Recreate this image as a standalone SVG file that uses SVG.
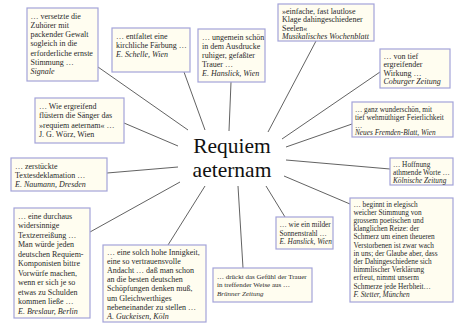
<svg xmlns="http://www.w3.org/2000/svg" width="454" height="328" viewBox="0 0 454 328">
<style>
.box{fill:#fffdf0;stroke:#a3a3d9;stroke-width:1.2}
.t{font-family:"Liberation Serif","DejaVu Serif",serif;font-size:8px;fill:#2a2a2a}
.s{font-size:7.3px}
.i{font-style:italic}
.c{font-family:"Liberation Serif","DejaVu Serif",serif;font-size:21.5px;fill:#111;text-anchor:middle}
.ln{stroke:#3a3a3a;stroke-width:0.8;fill:none}
</style>
<rect width="454" height="328" fill="#ffffff"/>
<g id="connectors">
<line class="ln" x1="98" y1="67" x2="188" y2="130"/>
<line class="ln" x1="184" y1="72" x2="205" y2="130"/>
<line class="ln" x1="231" y1="82" x2="229" y2="131"/>
<line class="ln" x1="316" y1="41" x2="268" y2="132"/>
<line class="ln" x1="380" y1="72" x2="282" y2="139"/>
<line class="ln" x1="352" y1="124" x2="286" y2="147"/>
<line class="ln" x1="390" y1="169" x2="286" y2="160"/>
<line class="ln" x1="350" y1="204" x2="284" y2="176"/>
<line class="ln" x1="124" y1="123" x2="178" y2="146"/>
<line class="ln" x1="107" y1="173" x2="178" y2="167"/>
<line class="ln" x1="90" y1="232" x2="180" y2="182"/>
<line class="ln" x1="168" y1="245" x2="205" y2="186"/>
<line class="ln" x1="285" y1="217" x2="266" y2="186"/>
<line class="ln" x1="243" y1="268" x2="238" y2="186"/>
</g>
<g id="center">
<text class="c" x="232" y="153">Requiem</text>
<text class="c" x="232" y="177">aeternam</text>
</g>
<g id="n1">
<rect class="box" x="27" y="8" width="71" height="73"/>
<text class="t" x="30.5" y="18.5">… versetzte die</text>
<text class="t" x="30.5" y="27.8">Zuhörer mit</text>
<text class="t" x="30.5" y="37.1">packender Gewalt</text>
<text class="t" x="30.5" y="46.4">sogleich in die</text>
<text class="t" x="30.5" y="55.7">erforderliche ernste</text>
<text class="t" x="30.5" y="65">Stimmung …</text>
<text class="t i" x="30.5" y="74.3">Signale</text>
</g>
<g id="n2">
<rect class="box" x="112" y="28" width="78" height="44"/>
<text class="t" x="116" y="38.5">… entfaltet eine</text>
<text class="t" x="116" y="47.5">kirchliche Färbung …</text>
<text class="t i" x="116" y="56.5">E. Schelle, Wien</text>
</g>
<g id="n3">
<rect class="box" x="198" y="29" width="67" height="53"/>
<text class="t" x="202" y="39.5">… ungemein schön</text>
<text class="t" x="202" y="48.5">in dem Ausdrucke</text>
<text class="t" x="202" y="57.5">ruhiger, gefaßter</text>
<text class="t" x="202" y="66.5">Trauer …</text>
<text class="t i" x="202" y="75.5">E. Hanslick, Wien</text>
</g>
<g id="n4">
<rect class="box" x="278" y="4" width="96" height="37"/>
<text class="t" x="282" y="13.5">»einfache, fast lautlose</text>
<text class="t" x="282" y="22">Klage dahingeschiedener</text>
<text class="t" x="282" y="30.5">Seelen«</text>
<text class="t i" x="282" y="39">Musikalisches Wochenblatt</text>
</g>
<g id="n5">
<rect class="box" x="380" y="49" width="70" height="39"/>
<text class="t" x="383.5" y="58.5">… von tief</text>
<text class="t" x="383.5" y="67">ergreifender</text>
<text class="t" x="383.5" y="75.5">Wirkung …</text>
<text class="t i" x="383.5" y="84">Coburger Zeitung</text>
</g>
<g id="n6">
<rect class="box" x="352" y="102" width="101" height="35"/>
<text class="t s" x="355" y="111.5">… ganz wunderschön, mit</text>
<text class="t s" x="355" y="119.5">tief wehmüthiger Feierlichkeit</text>
<text class="t s" x="355" y="127.5">…</text>
<text class="t s i" x="355" y="135">Neues Fremden-Blatt, Wien</text>
</g>
<g id="n7">
<rect class="box" x="390" y="158" width="63" height="27"/>
<text class="t s" x="393" y="167">… Hoffnung</text>
<text class="t s" x="393" y="175">athmende Worte …</text>
<text class="t s i" x="393" y="183">Kölnische Zeitung</text>
</g>
<g id="n8">
<rect class="box" x="350" y="198" width="103" height="104"/>
<text class="t s" x="353.5" y="206.5">… beginnt in elegisch</text>
<text class="t s" x="353.5" y="214.7">weicher Stimmung von</text>
<text class="t s" x="353.5" y="222.9">grossem poetischen und</text>
<text class="t s" x="353.5" y="231.1">klanglichen Reize: der</text>
<text class="t s" x="353.5" y="239.3">Schmerz um einen theueren</text>
<text class="t s" x="353.5" y="247.5">Verstorbenen ist zwar wach</text>
<text class="t s" x="353.5" y="255.7">in uns; der Glaube aber, dass</text>
<text class="t s" x="353.5" y="263.9">der Dahingeschiedene sich</text>
<text class="t s" x="353.5" y="272.1">himmlischer Verklärung</text>
<text class="t s" x="353.5" y="280.3">erfreut, nimmt unserm</text>
<text class="t s" x="353.5" y="288.5">Schmerze jede Herbheit…</text>
<text class="t s i" x="353.5" y="296.7">F. Stetter, München</text>
</g>
<g id="n9">
<rect class="box" x="35" y="98" width="89" height="45"/>
<text class="t" x="39" y="108.5">… Wie ergreifend</text>
<text class="t" x="39" y="118">flüstern die Sänger das</text>
<text class="t" x="39" y="127.5">»requiem aeternam« …</text>
<text class="t" x="39" y="137">J. G. Wörz, Wien</text>
</g>
<g id="n10">
<rect class="box" x="11" y="158" width="96" height="33"/>
<text class="t" x="15" y="169">… zerstückte</text>
<text class="t" x="15" y="178">Textesdeklamation …</text>
<text class="t i" x="15" y="187">E. Naumann, Dresden</text>
</g>
<g id="n11">
<rect class="box" x="14" y="208" width="76" height="110"/>
<text class="t" x="18" y="218.5">… eine durchaus</text>
<text class="t" x="18" y="228">widersinnige</text>
<text class="t" x="18" y="237.5">Textzerreißung …</text>
<text class="t" x="18" y="247">Man würde jeden</text>
<text class="t" x="18" y="256.5">deutschen Requiem-</text>
<text class="t" x="18" y="266">Komponisten bittre</text>
<text class="t" x="18" y="275.5">Vorwürfe machen,</text>
<text class="t" x="18" y="285">wenn er sich je so</text>
<text class="t" x="18" y="294.5">etwas zu Schulden</text>
<text class="t" x="18" y="304">kommen ließe …</text>
<text class="t i" x="18" y="313.5">E. Breslaur, Berlin</text>
</g>
<g id="n12">
<rect class="box" x="103" y="245" width="103" height="77"/>
<text class="t" x="107" y="255">… eine solch hohe Innigkeit,</text>
<text class="t" x="107" y="264.1">eine so vertrauensvolle</text>
<text class="t" x="107" y="273.2">Andacht … daß man schon</text>
<text class="t" x="107" y="282.3">an die besten deutschen</text>
<text class="t" x="107" y="291.4">Schöpfungen denken muß,</text>
<text class="t" x="107" y="300.5">um Gleichwerthiges</text>
<text class="t" x="107" y="309.6">nebeneinander zu stellen …</text>
<text class="t i" x="107" y="318.7">A. Guckeisen, Köln</text>
</g>
<g id="n13">
<rect class="box" x="276" y="217" width="57" height="32"/>
<text class="t s" x="279.5" y="227">… wie ein milder</text>
<text class="t s" x="279.5" y="235.5">Sonnenstrahl …</text>
<text class="t s i" x="279.5" y="244">E. Hanslick, Wien</text>
</g>
<g id="n14">
<rect class="box" x="213" y="268" width="99" height="34"/>
<text class="t" style="font-size:7px" x="217" y="278.5">… drückt das Gefühl der Trauer</text>
<text class="t" style="font-size:7px" x="217" y="287">in treffender Weise aus …</text>
<text class="t i" style="font-size:7px" x="217" y="295.5">Brünner Zeitung</text>
</g>
</svg>
